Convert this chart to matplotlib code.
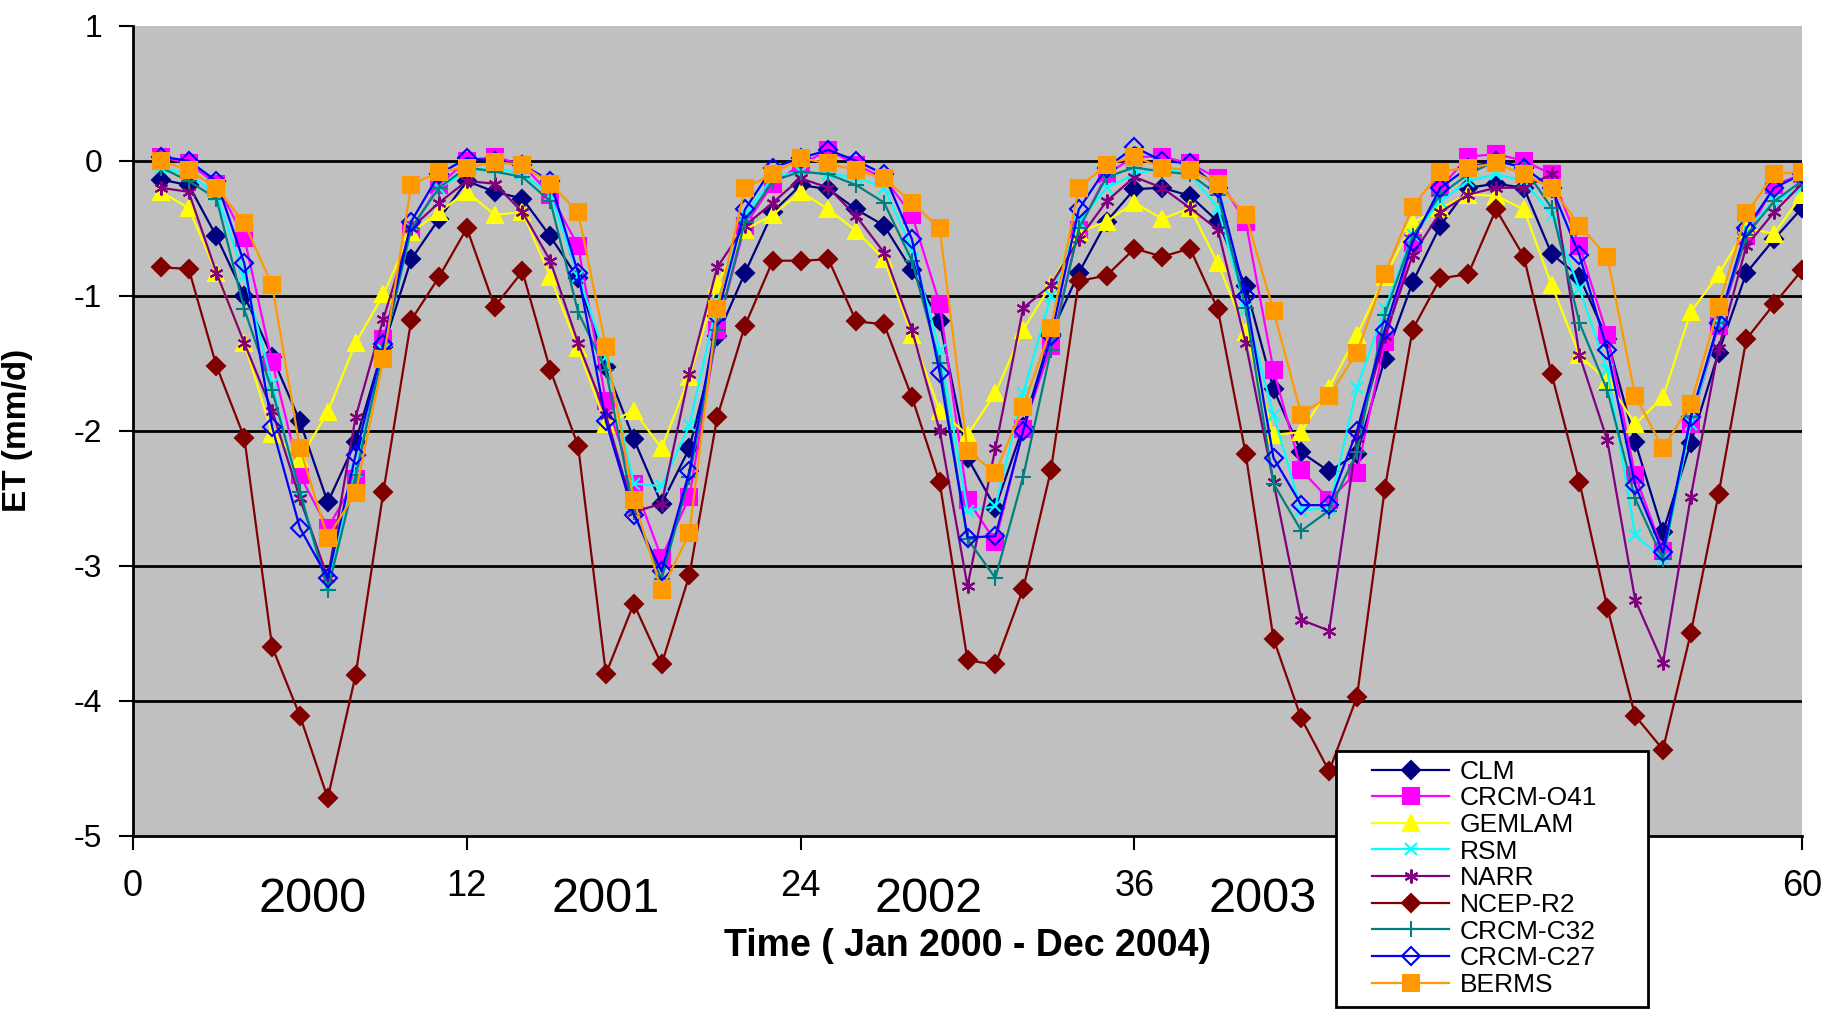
import numpy as np
import matplotlib
matplotlib.use('Agg')
import matplotlib.pyplot as plt
from matplotlib.patches import Rectangle

# months 1..60 (Jan 2000 - Dec 2004)
months = np.arange(1, 61)

clm = [-0.14, -0.18, -0.56, -1.00, -1.45, -1.93, -2.53, -2.08, -1.38, -0.73, -0.43, -0.15,
       -0.23, -0.28, -0.56, -0.87, -1.53, -2.06, -2.54, -2.13, -1.30, -0.83, -0.38, -0.18,
       -0.21, -0.36, -0.48, -0.81, -1.19, -2.20, -2.57, -1.97, -1.28, -0.83, -0.45, -0.21,
       -0.20, -0.26, -0.45, -0.93, -1.69, -2.16, -2.30, -2.17, -1.47, -0.90, -0.48, -0.20,
       -0.17, -0.20, -0.69, -0.86, -1.32, -2.08, -2.75, -2.09, -1.42, -0.83, -0.58, -0.35]
crcm_o41 = [0.03, -0.02, -0.17, -0.57, -1.49, -2.33, -2.72, -2.36, -1.32, -0.51, -0.18, 0.00,
            0.03, -0.03, -0.25, -0.63, -1.78, -2.39, -2.94, -2.49, -1.25, -0.48, -0.17, -0.03,
            0.08, -0.03, -0.13, -0.40, -1.06, -2.51, -2.82, -1.99, -1.37, -0.51, -0.10, 0.03,
            0.03, -0.02, -0.13, -0.45, -1.55, -2.29, -2.51, -2.31, -1.34, -0.61, -0.20, 0.03,
            0.05, 0.00, -0.10, -0.63, -1.29, -2.33, -2.89, -1.95, -1.22, -0.56, -0.18, -0.10]
gemlam = [-0.23, -0.35, -0.83, -1.35, -2.02, -2.21, -1.86, -1.35, -0.99, -0.53, -0.38, -0.23,
          -0.40, -0.38, -0.86, -1.39, -1.95, -1.85, -2.13, -1.60, -0.91, -0.51, -0.40, -0.23,
          -0.36, -0.52, -0.73, -1.29, -1.85, -2.03, -1.72, -1.25, -0.92, -0.53, -0.45, -0.31,
          -0.43, -0.35, -0.76, -1.27, -2.03, -2.01, -1.68, -1.29, -0.86, -0.46, -0.35, -0.25,
          -0.26, -0.36, -0.92, -1.44, -1.63, -1.95, -1.75, -1.12, -0.84, -0.50, -0.54, -0.25]
rsm = [-0.05, -0.10, -0.25, -0.85, -1.65, -2.50, -3.15, -2.30, -1.40, -0.50, -0.20, -0.08,
       -0.05, -0.10, -0.25, -0.85, -1.45, -2.39, -2.41, -1.96, -1.05, -0.40, -0.12, -0.08,
       -0.10, -0.12, -0.20, -0.65, -1.40, -2.59, -2.56, -1.72, -1.00, -0.45, -0.20, -0.10,
       -0.05, -0.10, -0.35, -1.10, -1.88, -2.59, -2.57, -1.68, -1.10, -0.55, -0.30, -0.15,
       -0.10, -0.15, -0.40, -0.95, -1.55, -2.77, -2.95, -1.95, -1.20, -0.50, -0.30, -0.20]
narr = [-0.20, -0.23, -0.83, -1.35, -1.85, -2.50, -3.09, -1.90, -1.17, -0.50, -0.31, -0.15,
        -0.17, -0.38, -0.74, -1.35, -1.88, -2.60, -2.54, -1.58, -0.79, -0.48, -0.31, -0.13,
        -0.20, -0.41, -0.68, -1.25, -2.00, -3.15, -2.13, -1.09, -0.92, -0.58, -0.30, -0.12,
        -0.20, -0.35, -0.51, -1.35, -2.38, -3.40, -3.48, -2.05, -1.30, -0.70, -0.38, -0.25,
        -0.20, -0.20, -0.10, -1.44, -2.07, -3.25, -3.72, -2.49, -1.39, -0.63, -0.38, -0.17]
ncep_r2 = [-0.79, -0.80, -1.52, -2.05, -3.60, -4.11, -4.72, -3.81, -2.45, -1.18, -0.86, -0.50,
           -1.08, -0.82, -1.55, -2.11, -3.80, -3.28, -3.73, -3.07, -1.90, -1.22, -0.74, -0.74,
           -0.73, -1.19, -1.21, -1.75, -2.38, -3.70, -3.73, -3.17, -2.29, -0.89, -0.85, -0.65,
           -0.71, -0.65, -1.10, -2.17, -3.54, -4.13, -4.52, -3.97, -2.43, -1.25, -0.87, -0.84,
           -0.36, -0.71, -1.58, -2.38, -3.31, -4.11, -4.36, -3.50, -2.47, -1.32, -1.06, -0.81]
crcm_c32 = [-0.05, -0.15, -0.28, -1.10, -1.70, -2.45, -3.18, -2.33, -1.40, -0.50, -0.20, -0.05,
            -0.08, -0.12, -0.30, -1.12, -1.55, -2.60, -3.10, -2.34, -1.25, -0.45, -0.15, -0.08,
            -0.10, -0.18, -0.31, -0.74, -1.50, -2.80, -3.09, -2.34, -1.40, -0.50, -0.12, -0.05,
            -0.08, -0.10, -0.25, -1.09, -2.39, -2.74, -2.59, -2.16, -1.14, -0.56, -0.25, -0.10,
            0.00, -0.05, -0.35, -1.20, -1.70, -2.50, -2.95, -1.90, -1.20, -0.55, -0.30, -0.15]
crcm_c27 = [0.03, 0.00, -0.15, -0.76, -1.97, -2.72, -3.09, -2.18, -1.36, -0.45, -0.10, 0.02,
            0.00, -0.03, -0.15, -0.83, -1.93, -2.62, -3.04, -2.30, -1.15, -0.36, -0.05, 0.02,
            0.08, 0.00, -0.10, -0.58, -1.57, -2.79, -2.78, -2.00, -1.30, -0.36, -0.05, 0.10,
            0.00, -0.02, -0.20, -1.00, -2.20, -2.55, -2.55, -2.00, -1.25, -0.60, -0.20, -0.05,
            0.00, -0.05, -0.20, -0.70, -1.40, -2.40, -2.90, -1.90, -1.20, -0.50, -0.20, -0.10]
berms = [0.00, -0.07, -0.20, -0.46, -0.92, -2.13, -2.79, -2.46, -1.47, -0.18, -0.08, -0.05,
         -0.01, -0.03, -0.17, -0.38, -1.38, -2.51, -3.18, -2.76, -1.10, -0.20, -0.10, 0.02,
         -0.02, -0.07, -0.13, -0.31, -0.50, -2.15, -2.31, -1.82, -1.24, -0.20, -0.03, 0.03,
         -0.05, -0.07, -0.17, -0.40, -1.11, -1.88, -1.74, -1.42, -0.84, -0.34, -0.08, -0.05,
         -0.02, -0.10, -0.20, -0.48, -0.71, -1.74, -2.13, -1.80, -1.08, -0.39, -0.10, -0.08]

year_labels = ['2000', '2001', '2002', '2003']
year_pos = [6.45, 17.0, 28.6, 40.6]

# (label, values, colour, marker, size, filled)
series = [
    ('CLM', clm, '#000080', 'D', 9, True),
    ('CRCM-O41', crcm_o41, '#FF00FF', 's', 11, True),
    ('GEMLAM', gemlam, '#FFFF00', '^', 11, True),
    ('RSM', rsm, '#00FFFF', 'x', 9, True),
    ('NARR', narr, '#800080', (6, 2, 0), 10, True),
    ('NCEP-R2', ncep_r2, '#800000', 'D', 9, True),
    ('CRCM-C32', crcm_c32, '#008080', '+', 11, True),
    ('CRCM-C27', crcm_c27, '#0000FF', 'D', 9, False),
    ('BERMS', berms, '#FF9900', 's', 11, True),
]

plt.rcParams['font.family'] = ['Liberation Sans', 'DejaVu Sans']
plt.rcParams['axes.unicode_minus'] = False

fig = plt.figure(figsize=(18.25, 10.09), dpi=100)
ax = fig.add_axes([0.0729, 0.1715, 0.9145, 0.803])
ax.set_facecolor('#C0C0C0')

for y in [0, -1, -2, -3, -4]:
    ax.axhline(y, color='black', lw=2, zorder=1)

for name, vals, col, mk, ms, filled in series:
    ax.plot(months, vals, color=col, lw=1.6, marker=mk, markersize=ms,
            markerfacecolor=col if filled else 'none', markeredgecolor=col,
            markeredgewidth=1.5, label=name, zorder=3)

ax.set_xlim(0, 60)
ax.set_ylim(-5, 1)
ax.set_xticks([0, 12, 24, 36, 48, 60])
ax.set_yticks([1, 0, -1, -2, -3, -4, -5])
ax.tick_params(axis='x', direction='out', length=10, width=1.5, pad=14, labelsize=26)
ax.tick_params(axis='y', direction='out', length=10, width=1.5, pad=12, labelsize=23)

for s in ['top', 'right']:
    ax.spines[s].set_visible(False)
for s in ['left', 'bottom']:
    ax.spines[s].set_linewidth(2)

ax.set_ylabel('ET (mm/d)', fontsize=24, fontweight='bold')
ax.yaxis.set_label_coords(-0.06, 0.5)
ax.set_xlabel('Time ( Jan 2000 - Dec 2004)', fontsize=27, fontweight='bold')
ax.xaxis.set_label_coords(0.5, -0.113)

for lab, xp in zip(year_labels, year_pos):
    ax.text(xp, -0.078, lab, transform=ax.get_xaxis_transform(), ha='center', va='center',
            fontsize=35, clip_on=False)

# legend box drawn by hand so the side padding can differ from the top one
fig.patches.append(Rectangle((0.732, 0.002), 0.171, 0.254, transform=fig.transFigure,
                             facecolor='white', edgecolor='black', lw=2, zorder=5))
leg = fig.legend(loc='upper left', bbox_to_anchor=(0.752, 0.247), fontsize=19,
                 frameon=False, handlelength=2.9, labelspacing=0.1, borderpad=0,
                 borderaxespad=0, handletextpad=0.4)
leg.set_zorder(6)

fig.savefig('out.png', dpi=100)
